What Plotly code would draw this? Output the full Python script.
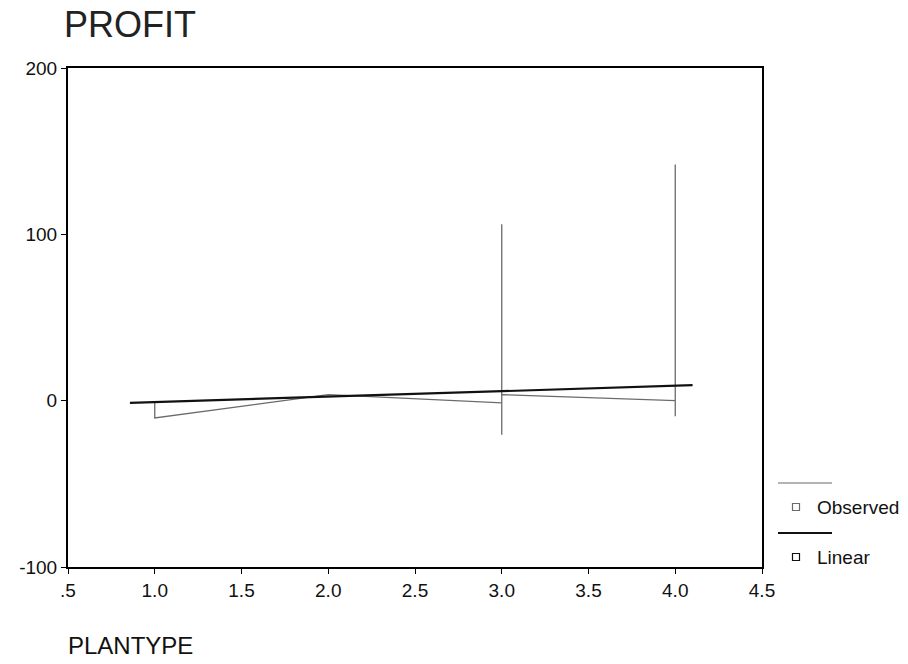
import plotly.graph_objects as go

# ---- data ----
plantype_obs = [1, 1, 2, 3, 3, 3, 3, 4, 4, 4]
profit_obs = [-1.3, -10.4, 3.6, -1.3, 106, -20.5, 3.6, 0.0, 142, -9.4]

plantype_fit = [0.857, 4.1]
profit_fit = [-1.3, 9.3]

x_tickvals = [0.5, 1.0, 1.5, 2.0, 2.5, 3.0, 3.5, 4.0, 4.5]
x_ticktext = [".5", "1.0", "1.5", "2.0", "2.5", "3.0", "3.5", "4.0", "4.5"]
y_tickvals = [-100, 0, 100, 200]
y_ticktext = ["-100", "0", "100", "200"]

FONT = "Arial, Liberation Sans, sans-serif"
W, H = 908, 664
L, R, T, B = 68, 146, 68, 97
PW, PH = W - L - R, H - T - B


def px(xp):
    return (xp - L) / PW


def py(yp):
    return (H - B - yp) / PH


OBS_COL = "#6a6a6a"
LIN_COL = "#111111"

fig = go.Figure()
fig.add_trace(go.Scatter(
    x=plantype_obs, y=profit_obs, mode="lines",
    line=dict(color=OBS_COL, width=1.3), name="Observed", showlegend=False))
fig.add_trace(go.Scatter(
    x=plantype_fit, y=profit_fit, mode="lines",
    line=dict(color=LIN_COL, width=2.2), name="Linear", showlegend=False))

shapes = []
annotations = []
# custom legend (SPSS style: line sample above, small square + label below)
legend_items = [
    ("Observed", 483, 507, OBS_COL, 1.2),
    ("Linear", 533, 557, LIN_COL, 2.0),
]
for label, ly, ty, col, lw in legend_items:
    shapes.append(dict(type="line", xref="paper", yref="paper",
                       x0=px(778), x1=px(832), y0=py(ly), y1=py(ly),
                       line=dict(color=col, width=lw)))
    shapes.append(dict(type="rect", xref="paper", yref="paper",
                       x0=px(792.5), x1=px(799.5), y0=py(ty + 3.5), y1=py(ty - 3.5),
                       line=dict(color=col, width=1.2)))
    annotations.append(dict(text=label, xref="paper", yref="paper",
                            x=px(815), y=py(ty), xanchor="left", yanchor="middle",
                            showarrow=False, font=dict(family=FONT, size=19, color="#111")))

annotations.append(dict(text="PLANTYPE", xref="paper", yref="paper",
                        x=px(66), y=py(661), xanchor="left", yanchor="bottom",
                        showarrow=False, font=dict(family=FONT, size=24, color="#111")))

fig.update_layout(
    width=W, height=H,
    margin=dict(l=L, r=R, t=T, b=B),
    paper_bgcolor="white", plot_bgcolor="white",
    showlegend=False,
    hovermode=False,
    title=dict(text="PROFIT", xref="container", yref="container",
               x=64 / W, xanchor="left", y=1 - 24 / H, yanchor="middle",
               font=dict(family=FONT, size=36, color="#222")),
    xaxis=dict(range=[0.5, 4.5], tickvals=x_tickvals, ticktext=x_ticktext,
               showgrid=False, zeroline=False, showline=True, linecolor="black",
               linewidth=2, mirror=True, ticks="outside", ticklen=5,
               tickcolor="black", tickfont=dict(family=FONT, size=19, color="#111")),
    yaxis=dict(range=[-100, 200], tickvals=y_tickvals, ticktext=y_ticktext,
               showgrid=False, zeroline=False, showline=True, linecolor="black",
               linewidth=2, mirror=True, ticks="outside", ticklen=5,
               tickcolor="black", tickfont=dict(family=FONT, size=19, color="#111")),
    shapes=shapes,
    annotations=annotations,
)

fig.write_html(
    "out.html",
    config={"displayModeBar": False, "staticPlot": True},
    post_script="document.body.style.margin='0';document.body.style.padding='0';"
                "document.body.style.overflow='hidden';",
)
